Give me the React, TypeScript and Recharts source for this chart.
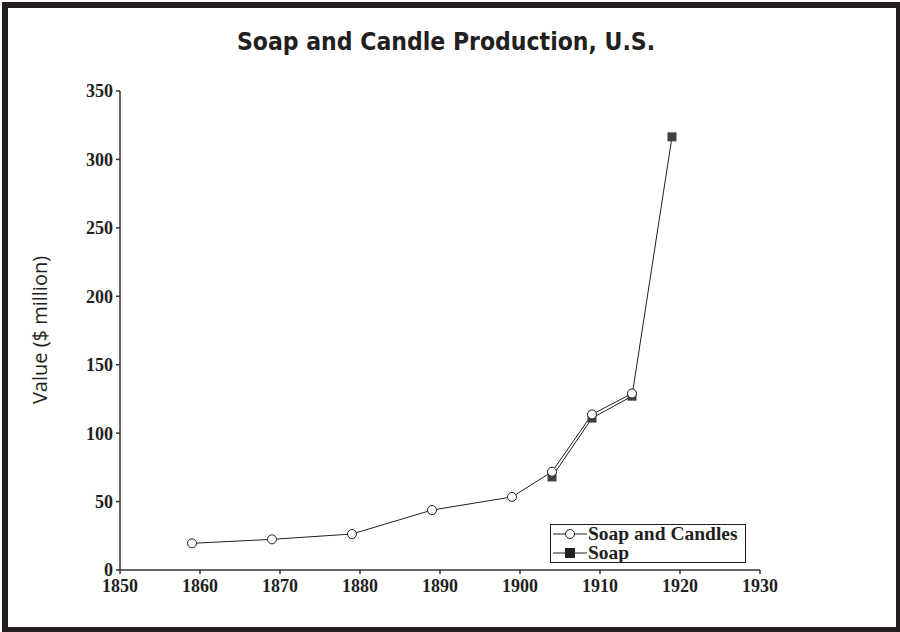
import { LineChart, Line, XAxis, YAxis, Legend } from "recharts"

// values
const candleYears = [1859, 1869, 1879, 1889, 1899, 1904, 1909, 1914]
const candleValues = [19.5, 22.4, 26.3, 43.8, 53.4, 71.8, 113.7, 129]
const soapYears = [1904, 1909, 1914, 1919]
const soapValues = [68, 111, 127, 316.5]
const xTicks = [1850, 1860, 1870, 1880, 1890, 1900, 1910, 1920, 1930]
const yTicks = [0, 50, 100, 150, 200, 250, 300, 350]

const candleData = candleYears.map((year, i) => ({ year, value: candleValues[i] }))
const soapData = soapYears.map((year, i) => ({ year, value: soapValues[i] }))

const INK = "#231f20"
const SERIF = "'Liberation Serif', 'Times New Roman', serif"

const tickStyle = { fontFamily: SERIF, fontWeight: 700, fontSize: 18, fill: INK }

function CircleDot(props: any) {
  const { cx, cy } = props
  if (cx == null || cy == null) return null
  return <circle cx={cx} cy={cy} r={4.5} fill="#fff" stroke={INK} strokeWidth={1} />
}

function SquareDot(props: any) {
  const { cx, cy } = props
  if (cx == null || cy == null) return null
  return <rect x={cx - 4.5} y={cy - 4.5} width={9} height={9} fill="#404040" />
}

function LegendBox() {
  const rows = [
    { name: "Soap and Candles", square: false },
    { name: "Soap", square: true },
  ]
  return (
    <div
      style={{
        border: `1.5px solid ${INK}`,
        background: "#fff",
        padding: "0 3px 0 2px",
        fontFamily: SERIF,
        fontWeight: 700,
        fontSize: 19.5,
        color: INK,
        lineHeight: "18.5px",
      }}
    >
      {rows.map((r) => (
        <div key={r.name} style={{ display: "flex", alignItems: "center", height: 18.5 }}>
          <svg width={34} height={14} style={{ marginRight: 1 }}>
            <line x1={0} y1={7} x2={34} y2={7} stroke={INK} strokeWidth={1} />
            {r.square ? (
              <rect x={12} y={2} width={10} height={10} fill={INK} />
            ) : (
              <circle cx={17} cy={7} r={4.5} fill="#fff" stroke={INK} strokeWidth={1} />
            )}
          </svg>
          <span>{r.name}</span>
        </div>
      ))}
    </div>
  )
}

export default function App() {
  return (
    <div style={{ position: "absolute", left: 0, top: 0, width: 900, height: 632, background: "#fff" }}>
      <div
        style={{
          position: "absolute",
          left: 2,
          top: 2,
          width: 898,
          height: 630,
          boxSizing: "border-box",
          borderStyle: "solid",
          borderColor: INK,
          borderWidth: "6px 4px 5px 6px",
        }}
      />
      <div
        style={{
          position: "absolute",
          left: 0,
          top: 27,
          width: 892,
          textAlign: "center",
          fontFamily: "'DejaVu Sans Condensed', 'DejaVu Sans', sans-serif",
          fontWeight: 700,
          fontSize: 24.5,
          color: INK,
        }}
      >
        Soap and Candle Production, U.S.
      </div>
      <div
        style={{
          position: "absolute",
          left: 39,
          top: 330,
          transform: "translate(-50%, -50%) rotate(-90deg)",
          whiteSpace: "nowrap",
          fontFamily: "'Open Sans', sans-serif",
          fontSize: 20,
          color: INK,
        }}
      >
        Value ($ million)
      </div>
      <LineChart
        width={900}
        height={632}
        margin={{ top: 91, right: 140, bottom: 0, left: 0 }}
        style={{ position: "absolute", left: 0, top: 0 }}
      >
        <XAxis
          type="number"
          dataKey="year"
          domain={[1850, 1930]}
          ticks={xTicks}
          allowDataOverflow
          height={62}
          tick={tickStyle}
          tickSize={4}
          tickMargin={5}
          stroke="#333"
          strokeWidth={1.5}
        />
        <YAxis
          type="number"
          dataKey="value"
          domain={[0, 350]}
          ticks={yTicks}
          width={120}
          tick={tickStyle}
          tickSize={4}
          tickMargin={3}
          stroke="#333"
          strokeWidth={1.5}
        />
        <Legend
          layout="vertical"
          align="center"
          verticalAlign="middle"
          content={() => <LegendBox />}
          wrapperStyle={{ left: 550, top: 524, width: 196, height: "auto" }}
        />
        <Line
          data={soapData}
          dataKey="value"
          name="Soap"
          stroke={INK}
          strokeWidth={1}
          dot={<SquareDot />}
          activeDot={false}
          isAnimationActive={false}
        />
        <Line
          data={candleData}
          dataKey="value"
          name="Soap and Candles"
          stroke={INK}
          strokeWidth={1}
          dot={<CircleDot />}
          activeDot={false}
          isAnimationActive={false}
        />
      </LineChart>
    </div>
  )
}
